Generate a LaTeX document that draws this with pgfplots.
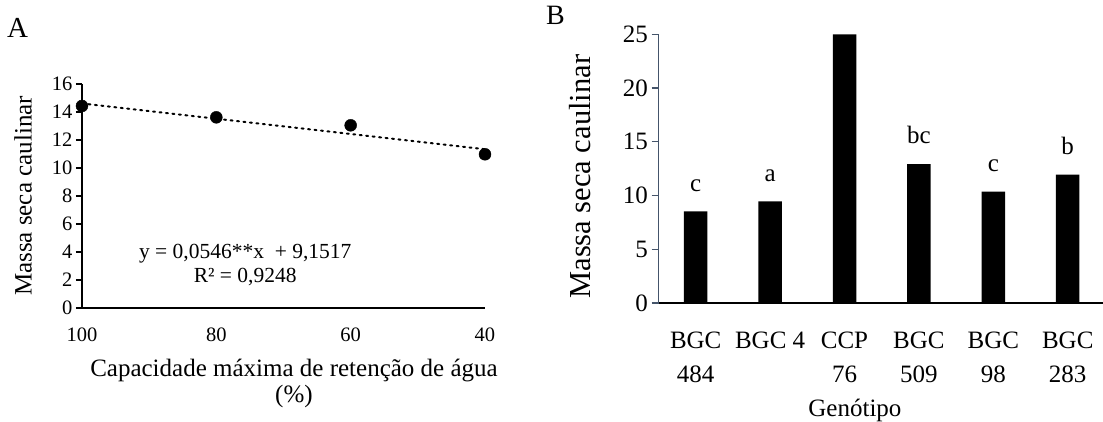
\documentclass[border=0pt]{standalone}
\usepackage{fontspec}
\setmainfont{Liberation Serif}
\usepackage{pgfplots}
\pgfplotsset{compat=1.18}
\definecolor{slate}{HTML}{44546A}
\begin{document}
\begin{tikzpicture}
\path[use as bounding box] (0,0) rectangle (1103pt,-422pt);
\node[anchor=base west, font=\fontsize{29}{32}\selectfont, inner sep=0pt] at (7pt,-38pt) {A};
\node[anchor=base west, font=\fontsize{28}{30}\selectfont, inner sep=0pt] at (546pt,-25pt) {B};
% Panel A
\begin{axis}[
  at={(82pt,-308pt)}, anchor=south west,
  scale only axis, width=403pt, height=224pt,
  x dir=reverse, xmin=40, xmax=100, ymin=0, ymax=16,
  axis x line=bottom, axis y line=left,
  axis line style={-, line width=1.2pt, black},
  xtick={40,60,80,100}, ytick={0,2,...,16},
  tick align=outside, major tick length=6pt,
  x tick style={draw=none}, y tick style={line width=1.2pt, black},
  ticklabel style={font=\fontsize{20.5}{24}\selectfont},
  /pgf/number format/assume math mode=true,
  xticklabel style={yshift=-10pt},
  clip=false,
  ylabel={Massa seca caulinar},
  every axis y label/.style={at={(axis description cs:-0.146,0.5)}, rotate=90, anchor=center, font=\fontsize{25}{28}\selectfont},
]
\addplot[line width=2pt, dash pattern=on 2pt off 4.5pt, line cap=round] coordinates {(100,14.61) (40,11.34)};
\addplot[only marks, mark=*, mark size=6pt, black] coordinates {(100,14.43) (80,13.62) (60,13.05) (40,10.98)};
\node[align=center, font=\fontsize{21.5}{24}\selectfont] at (axis cs:75.7,3.1) {y = 0,0546**x \ + 9,1517\\R² = 0,9248};
\node[anchor=base, font=\fontsize{25}{28}\selectfont] at (axis description cs:0.526,-0.308) {Capacidade máxima de retenção de água};
\node[anchor=base, font=\fontsize{25}{28}\selectfont] at (axis description cs:0.526,-0.42) {(\%)};
\end{axis}
% Panel B
\begin{axis}[
  at={(658.5pt,-303pt)}, anchor=south west,
  scale only axis, width=444.5pt, height=268.7pt,
  xmin=-0.5, xmax=5.474, ymin=0, ymax=25,
  axis x line=bottom, axis y line=left,
  x axis line style={-, line width=2pt, black},
  y axis line style={-, line width=1.2pt, slate},
  xtick={0,1,2,3,4,5},
  xticklabels={{BGC\\484},{BGC 4},{CCP\\76},{BGC\\509},{BGC\\98},{BGC\\283}},
  xticklabel style={align=center, anchor=north, yshift=-18pt, font=\fontsize{25}{34}\selectfont},
  ytick={0,5,...,25},
  tick align=outside, major tick length=7pt,
  x tick style={draw=none}, y tick style={line width=1.2pt, slate},
  yticklabel style={font=\fontsize{25}{28}\selectfont},
  /pgf/number format/assume math mode=true,
  clip=false,
  ylabel={Massa seca caulinar},
  every axis y label/.style={at={(axis description cs:-0.176,0.47)}, rotate=90, anchor=center, font=\fontsize{30.5}{32}\selectfont},
]
\addplot[ybar, bar width=23.5pt, fill=black, draw=none] coordinates {(0,8.52) (1,9.45) (2,25.0) (3,12.92) (4,10.36) (5,11.95)};
\node[anchor=base, font=\fontsize{25}{28}\selectfont] at (axis cs:0,10.4) {c};
\node[anchor=base, font=\fontsize{25}{28}\selectfont] at (axis cs:1,11.35) {a};
\node[anchor=base, font=\fontsize{25}{28}\selectfont] at (axis cs:3,14.8) {bc};
\node[anchor=base, font=\fontsize{25}{28}\selectfont] at (axis cs:4,12.2) {c};
\node[anchor=base, font=\fontsize{25}{28}\selectfont] at (axis cs:5,13.86) {b};
\node[anchor=base, font=\fontsize{25}{28}\selectfont] at (axis cs:2.14,-10.6) {Genótipo};
\end{axis}
\end{tikzpicture}
\end{document}
